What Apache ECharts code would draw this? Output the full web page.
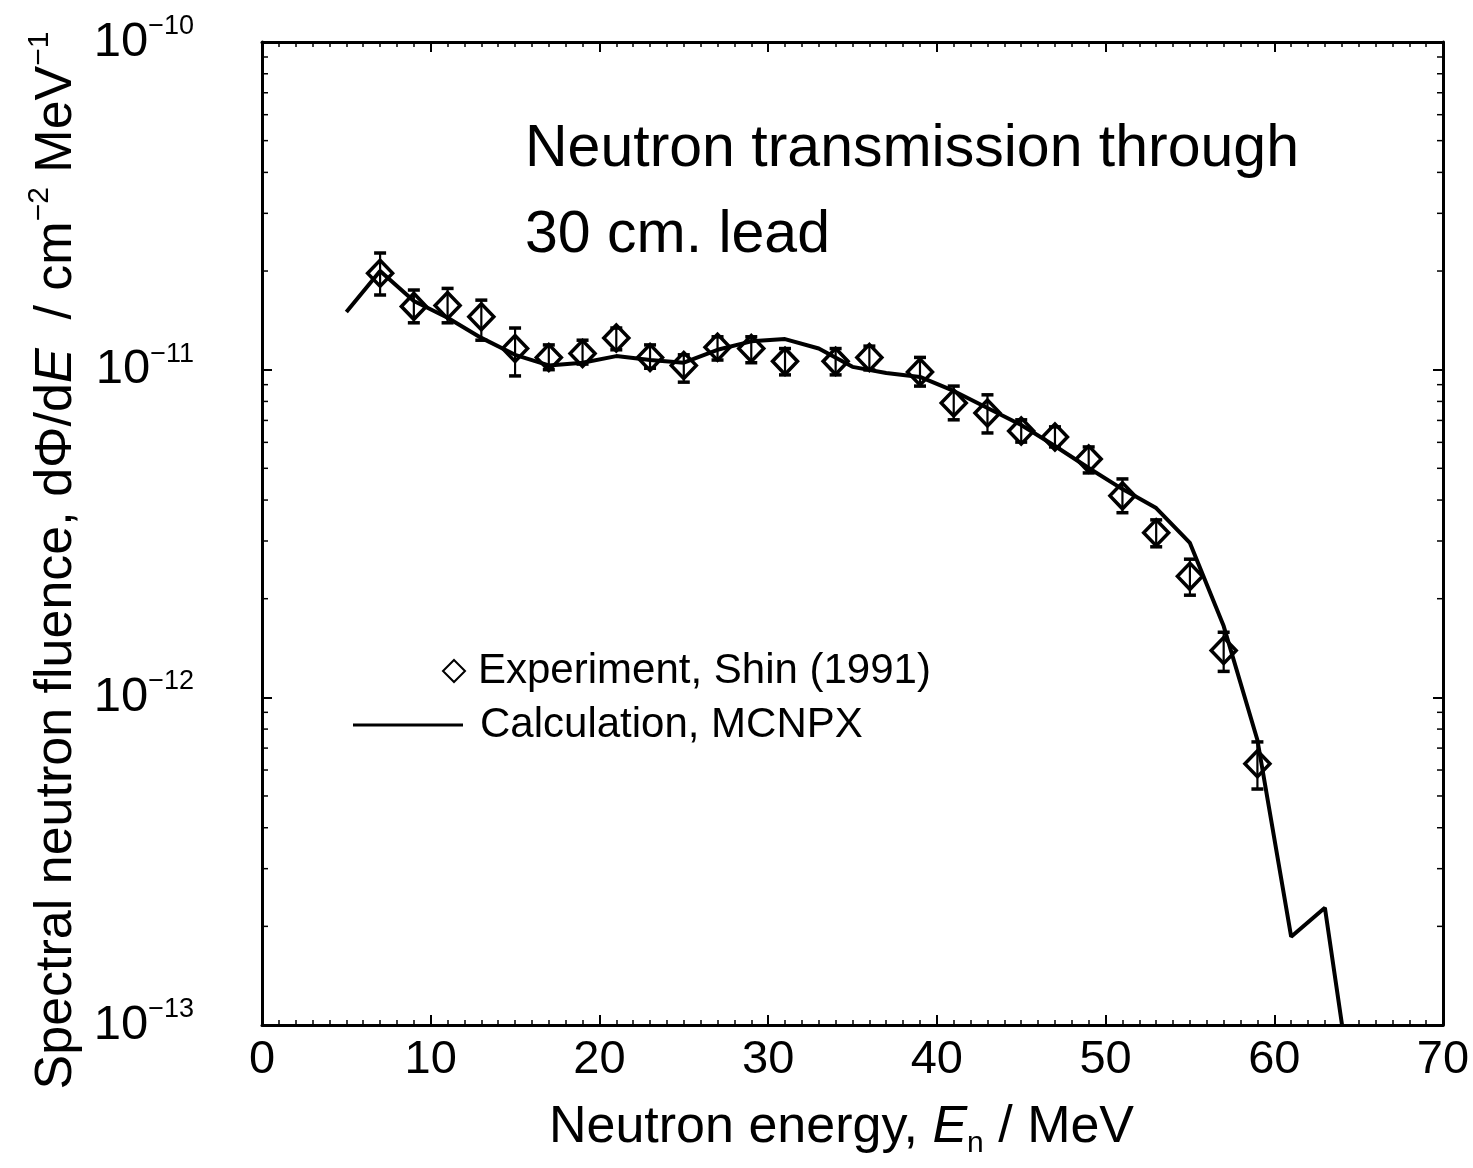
<!DOCTYPE html>
<html>
<head>
<meta charset="utf-8">
<script src="https://cdn.jsdelivr.net/npm/echarts@6/dist/echarts.min.js"></script>
<style>
html, body { margin: 0; padding: 0; background: #fff; }
#chart { width: 1473px; height: 1168px; }
</style>
</head>
<body>
<div id="chart"></div>
<script>
// experiment, Shin (1991)
var expEnergy = [7, 9, 11, 13, 15, 17, 19, 21, 23, 25, 27, 29, 31, 34, 36, 39, 41, 43, 45, 47, 49, 51, 53, 55, 57, 59];
var expFluence = [1.97e-11, 1.56e-11, 1.57e-11, 1.45e-11, 1.16e-11, 1.09e-11, 1.12e-11, 1.25e-11, 1.09e-11, 1.03e-11,
    1.17e-11, 1.16e-11, 1.06e-11, 1.06e-11, 1.09e-11, 9.84e-12, 7.91e-12, 7.38e-12, 6.50e-12, 6.23e-12,
    5.34e-12, 4.12e-12, 3.18e-12, 2.34e-12, 1.39e-12, 6.27e-13];
var expLow = [1.69e-11, 1.39e-11, 1.39e-11, 1.23e-11, 9.57e-12, 1.00e-11, 1.04e-11, 1.15e-11, 1.01e-11, 9.16e-12,
    1.07e-11, 1.05e-11, 9.64e-12, 9.64e-12, 9.98e-12, 8.91e-12, 7.03e-12, 6.41e-12, 6.01e-12, 5.81e-12,
    4.84e-12, 3.66e-12, 2.88e-12, 2.05e-12, 1.20e-12, 5.25e-13];
var expHigh = [2.27e-11, 1.75e-11, 1.77e-11, 1.63e-11, 1.34e-11, 1.19e-11, 1.23e-11, 1.34e-11, 1.19e-11, 1.11e-11,
    1.26e-11, 1.26e-11, 1.16e-11, 1.16e-11, 1.18e-11, 1.09e-11, 8.91e-12, 8.38e-12, 7.03e-12, 6.69e-12,
    5.81e-12, 4.64e-12, 3.48e-12, 2.64e-12, 1.58e-12, 7.31e-13];

// calculation, MCNPX
var calcEnergy = [5, 7, 9, 11, 13, 15, 17, 19, 21, 23, 25, 27, 29, 31, 33, 35, 37, 39, 41, 43,
    45, 47, 49, 51, 53, 55, 57, 59, 61, 63, 65];
var calcFluence = [1.50e-11, 2.00e-11, 1.62e-11, 1.44e-11, 1.25e-11, 1.11e-11, 1.03e-11, 1.05e-11, 1.10e-11, 1.07e-11,
    1.05e-11, 1.15e-11, 1.22e-11, 1.24e-11, 1.16e-11, 1.02e-11, 9.77e-12, 9.50e-12, 8.61e-12, 7.64e-12,
    6.78e-12, 5.85e-12, 5.01e-12, 4.32e-12, 3.78e-12, 2.96e-12, 1.65e-12, 7.41e-13, 1.86e-13, 2.28e-13, 4.5e-14];

// minor ticks of the log axis
var yMinorTicks = [];
[-13, -12, -11].forEach(function (e) {
    for (var d = 2; d <= 9; d++) {
        yMinorTicks.push(d * Math.pow(10, e));
    }
});

var FONT = '"Liberation Sans", Arial, Helvetica, sans-serif';

function zip2(a, b) {
    var out = [];
    for (var i = 0; i < a.length; i++) out.push([a[i], b[i]]);
    return out;
}

function zip3(a, b, c) {
    var out = [];
    for (var i = 0; i < a.length; i++) out.push([a[i], b[i], c[i]]);
    return out;
}

function powLabel(v) {
    var e = Math.round(Math.log(v) / Math.LN10);
    return '{b|10}{s|\u2212' + Math.abs(e) + '}';
}

var chart = echarts.init(document.getElementById('chart'), null, { renderer: 'canvas' });

var option = {
    animation: false,
    backgroundColor: '#fff',
    textStyle: { fontFamily: FONT, color: '#000' },
    title: {
        text: 'Neutron transmission through\n30 cm. lead',
        left: 520,
        top: 102,
        textStyle: {
            fontFamily: FONT,
            fontSize: 59,
            fontWeight: 'normal',
            color: '#000',
            lineHeight: 86
        }
    },
    legend: [{
        data: ['Experiment, Shin (1991)'],
        left: 437,
        top: 645,
        itemWidth: 22,
        itemHeight: 22,
        textStyle: { fontFamily: FONT, fontSize: 42, color: '#000', padding: [0, 0, 0, 8] }
    }, {
        data: [{ name: 'Calculation, MCNPX', icon: 'rect' }],
        left: 348,
        top: 699,
        itemWidth: 110,
        itemHeight: 3,
        textStyle: { fontFamily: FONT, fontSize: 42, color: '#000', padding: [0, 0, 0, 12] }
    }],
    grid: {
        left: 262,
        top: 42,
        right: 30,
        bottom: 143,
        containLabel: false
    },
    xAxis: [{
        type: 'value',
        min: 0,
        max: 70,
        interval: 10,
        position: 'bottom',
        name: '{t|Neutron energy, }{i|E}{sub|n}{t| / MeV}',
        nameLocation: 'middle',
        nameGap: 72,
        nameTextStyle: {
            padding: [0, 22, 0, 0],
            rich: {
                t: { fontFamily: FONT, fontSize: 52, color: '#000', lineHeight: 62 },
                i: { fontFamily: FONT, fontSize: 52, fontStyle: 'italic', color: '#000', lineHeight: 62 },
                sub: { fontFamily: FONT, fontSize: 30, color: '#000', lineHeight: 30, verticalAlign: 'bottom' }
            }
        },
        axisLine: { onZero: false, lineStyle: { color: '#000', width: 3 } },
        axisTick: { inside: true, length: 10, lineStyle: { color: '#000', width: 2 } },
        minorTick: { show: true, splitNumber: 10, length: 5, lineStyle: { color: '#000', width: 1.5 } },
        axisLabel: { margin: 12, fontFamily: FONT, fontSize: 47, color: '#000' },
        splitLine: { show: false }
    }, {
        type: 'value',
        min: 0,
        max: 70,
        interval: 10,
        position: 'top',
        axisLine: { onZero: false, lineStyle: { color: '#000', width: 3 } },
        axisTick: { inside: true, length: 10, lineStyle: { color: '#000', width: 2 } },
        minorTick: { show: true, splitNumber: 10, length: 5, lineStyle: { color: '#000', width: 1.5 } },
        axisLabel: { show: false },
        splitLine: { show: false }
    }],
    yAxis: [{
        type: 'log',
        logBase: 10,
        min: 1e-13,
        max: 1e-10,
        position: 'left',
        name: '{t|Spectral neutron fluence, d\u03A6/d}{i|E}{t|  / cm}{s|\u22122}{t| MeV}{s|\u22121}',
        nameLocation: 'middle',
        nameGap: 172,
        nameTextStyle: {
            padding: [0, 54, 0, 0],
            rich: {
                t: { fontFamily: FONT, fontSize: 52, color: '#000', lineHeight: 64 },
                i: { fontFamily: FONT, fontSize: 52, fontStyle: 'italic', color: '#000', lineHeight: 64 },
                s: { fontFamily: FONT, fontSize: 30, color: '#000', lineHeight: 30, verticalAlign: 'top' }
            }
        },
        axisLine: { onZero: false, lineStyle: { color: '#000', width: 3 } },
        axisTick: { inside: true, length: 10, lineStyle: { color: '#000', width: 2 } },
        axisLabel: {
            margin: 68,
            formatter: powLabel,
            rich: {
                b: { fontFamily: FONT, fontSize: 49, color: '#000', lineHeight: 58 },
                s: { fontFamily: FONT, fontSize: 27, color: '#000', lineHeight: 27, verticalAlign: 'top' }
            }
        },
        splitLine: { show: false }
    }, {
        type: 'log',
        logBase: 10,
        min: 1e-13,
        max: 1e-10,
        position: 'right',
        axisLine: { onZero: false, lineStyle: { color: '#000', width: 3 } },
        axisTick: { inside: true, length: 10, lineStyle: { color: '#000', width: 2 } },
        axisLabel: { show: false },
        splitLine: { show: false }
    }],
    series: [{
        name: 'Calculation, MCNPX',
        type: 'line',
        data: zip2(calcEnergy, calcFluence),
        symbol: 'none',
        clip: true,
        lineStyle: { color: '#000', width: 4 },
        itemStyle: { color: '#000' },
        z: 3
    }, {
        name: 'errorbars',
        type: 'custom',
        data: zip3(expEnergy, expLow, expHigh),
        encode: { x: 0, y: [1, 2] },
        renderItem: function (params, api) {
            var lo = api.coord([api.value(0), api.value(1)]);
            var hi = api.coord([api.value(0), api.value(2)]);
            var cap = 6;
            var st = { stroke: '#000', lineWidth: 2.2 };
            var capSt = { stroke: '#000', lineWidth: 3.5 };
            return {
                type: 'group',
                children: [
                    { type: 'line', shape: { x1: lo[0], y1: lo[1], x2: hi[0], y2: hi[1] }, style: st },
                    { type: 'line', shape: { x1: lo[0] - cap, y1: lo[1], x2: lo[0] + cap, y2: lo[1] }, style: capSt },
                    { type: 'line', shape: { x1: hi[0] - cap, y1: hi[1], x2: hi[0] + cap, y2: hi[1] }, style: capSt }
                ]
            };
        },
        z: 4
    }, {
        name: 'Experiment, Shin (1991)',
        type: 'scatter',
        data: zip2(expEnergy, expFluence),
        symbol: 'diamond',
        symbolSize: [25, 26],
        itemStyle: { color: 'rgba(0,0,0,0)', borderColor: '#000', borderWidth: 3.5, opacity: 1 },
        z: 5
    }, {
        name: 'yMinorTicks',
        type: 'custom',
        data: yMinorTicks.map(function (v) { return [0, v]; }),
        clip: false,
        silent: true,
        renderItem: function (params, api) {
            var cs = params.coordSys;
            var y = api.coord([0, api.value(1)])[1];
            var st = { stroke: '#000', lineWidth: 1.5 };
            return {
                type: 'group',
                children: [
                    { type: 'line', shape: { x1: cs.x, y1: y, x2: cs.x + 6, y2: y }, style: st },
                    { type: 'line', shape: { x1: cs.x + cs.width, y1: y, x2: cs.x + cs.width - 6, y2: y }, style: st }
                ]
            };
        },
        z: 2
    }]
};

chart.setOption(option);
</script>
</body>
</html>
